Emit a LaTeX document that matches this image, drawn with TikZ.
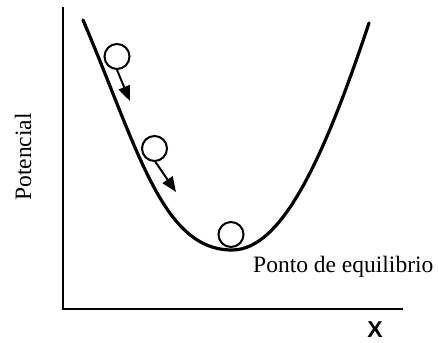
\documentclass[tikz,border=0pt]{standalone}
\usepackage{fontspec}
\setmainfont{Liberation Serif}
\newfontfamily\xsans{Liberation Sans}
\usetikzlibrary{arrows.meta}
\begin{document}
\begin{tikzpicture}[x=1pt,y=-1pt,
  ball/.style={circle,draw,line width=2pt,minimum size=25pt,inner sep=0pt},
  push/.style={line width=2pt,-{Triangle[length=15pt,width=12pt]}},
  axisline/.style={line width=2pt},
  lbl/.style={inner sep=0pt,font=\fontsize{23.5}{23.5}\selectfont}]
\useasboundingbox (0,0) rectangle (438,342);
% axes
\coordinate (top) at (63,8);
\coordinate (origin) at (63,309);
\coordinate (right) at (402,309);
\draw[axisline,line cap=rect] (top) -- (origin) -- (right);
% potential curve
\coordinate (cstart) at (83,20);
\coordinate (cmin) at (232,250);
\coordinate (cend) at (369,23);
\draw[line width=3.2pt,line cap=round] (cstart) .. controls (138,149) and (162,250) .. (cmin)
  .. controls (282,250) and (324,158) .. (cend);
% balls
\node[ball,fill=white] (b1) at (117,56.5) {};
\node[ball,fill=white] (b2) at (154.5,148.5) {};
\node[ball,fill=white] (b3) at (231,234.5) {};
\coordinate (t1) at (130,101);
\coordinate (t2) at (176,192);
\draw[push] (b1.south) -- (t1);
\draw[push] (b2.south) ++(1,0) -- (t2);
% labels
\node[lbl,rotate=90] (pot) at (23,157) {Potencial};
\node[lbl,anchor=base west] (eq) at (253,272) {Ponto de equilibrio};
\node[inner sep=0pt,anchor=base,font=\xsans\bfseries\fontsize{23}{23}\selectfont] (xl) at (375,337) {X};
\end{tikzpicture}
\end{document}
